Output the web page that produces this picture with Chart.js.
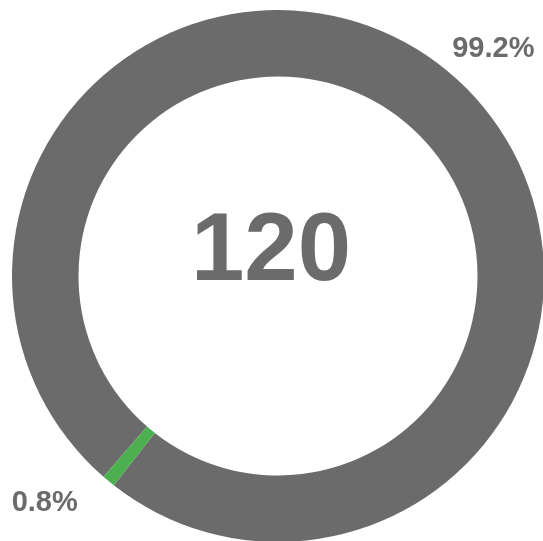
<!DOCTYPE html>
<html>
<head>
<meta charset="utf-8">
<script src="https://cdn.jsdelivr.net/npm/chart.js@4/dist/chart.umd.min.js"></script>
<style>
    html, body { margin: 0; padding: 0; background: #fff; overflow: hidden; }
    body { width: 543px; height: 541px; position: relative; }
    #chart-box { position: absolute; left: 12px; top: 10px; width: 532px; height: 532px; }
</style>
</head>
<body>
<div id="chart-box"><canvas id="ring-chart"></canvas></div>
<script>
// Chart data
const sliceNames = ['Rest', 'Share'];
const sliceValues = [99.2, 0.8];
const sliceColors = ['#6b6b6b', '#4caf50'];
const centerValue = '120';

const textColor = '#6b6b6b';

/**
 * Draws the big number in the middle of the ring
 */
const centerTextPlugin = {
    id: 'centerText',
    afterDraw(chart) {
        const arc = chart.getDatasetMeta(0).data[0];
        if (!arc) return;
        const ctx = chart.ctx;
        ctx.save();
        ctx.fillStyle = textColor;
        ctx.font = 'bold 96px "Liberation Sans", Arial, sans-serif';
        ctx.textAlign = 'center';
        ctx.textBaseline = 'middle';
        ctx.fillText(centerValue, arc.x - 7, arc.y - 22);
        ctx.restore();
    }
};

/**
 * Draws the percentage of each slice outside the ring
 */
const outerLabelPlugin = {
    id: 'outerLabels',
    afterDraw(chart) {
        const meta = chart.getDatasetMeta(0);
        const ctx = chart.ctx;
        ctx.save();
        ctx.fillStyle = textColor;
        ctx.font = 'bold 29px "Liberation Sans", Arial, sans-serif';
        ctx.textBaseline = 'middle';
        meta.data.forEach((arc, i) => {
            const mid = (arc.startAngle + arc.endAngle) / 2;
            const dist = arc.outerRadius + 28;
            const x = arc.x + Math.cos(mid) * dist - 13;
            const y = arc.y + Math.sin(mid) * dist;
            ctx.textAlign = Math.cos(mid) >= 0 ? 'left' : 'right';
            ctx.fillText(sliceValues[i].toFixed(1) + '%', x, y);
        });
        ctx.restore();
    }
};

const ctx = document.getElementById('ring-chart').getContext('2d');

new Chart(ctx, {
    type: 'doughnut',
    data: {
        labels: sliceNames,
        datasets: [{
            data: sliceValues,
            backgroundColor: sliceColors,
            borderWidth: 0
        }]
    },
    options: {
        responsive: true,
        maintainAspectRatio: false,
        animation: false,
        cutout: '75%',
        rotation: -139,
        layout: { padding: 0 },
        plugins: {
            legend: { display: false },
            tooltip: { enabled: false }
        }
    },
    plugins: [centerTextPlugin, outerLabelPlugin]
});
</script>
</body>
</html>
